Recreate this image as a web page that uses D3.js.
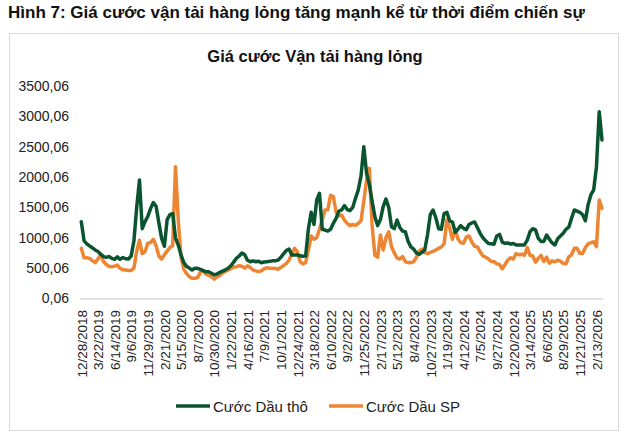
<!DOCTYPE html>
<html>
<head>
<meta charset="utf-8">
<script src="https://cdn.jsdelivr.net/npm/d3@7"></script>
<style>
  html, body { margin: 0; padding: 0; background: #ffffff; }
  svg { display: block; font-family: "Liberation Sans", Arial, sans-serif; }
</style>
</head>
<body>
<svg id="chart" width="631" height="437"></svg>
<script>
// ---------------- DATA ----------------
const pageTitle = "Hình 7: Giá cước vận tải hàng lỏng tăng mạnh kể từ thời điểm chiến sự";
const chartTitle = "Giá cước Vận tải hàng lỏng";
const seriesNames = ["Cước Dầu thô", "Cước Dầu SP"];
const startDate = "12/28/2018";   // first observation, every 2 weeks after
const stepDays = 14;

const tickLabels = ["12/28/2018","3/22/2019","6/14/2019","9/6/2019","11/29/2019","2/21/2020",
  "5/15/2020","8/7/2020","10/30/2020","1/22/2021","4/16/2021","7/9/2021","10/1/2021",
  "12/24/2021","3/18/2022","6/10/2022","9/2/2022","11/25/2022","2/17/2023","5/12/2023",
  "8/4/2023","10/27/2023","1/19/2024","4/12/2024","7/5/2024","9/27/2024","12/20/2024",
  "3/14/2025","6/6/2025","8/29/2025","11/21/2025","2/13/2026"];

const yTicks = [0.06, 500.06, 1000.06, 1500.06, 2000.06, 2500.06, 3000.06, 3500.06];

// Cước Dầu thô (crude)
const crude = [
  1265, 950, 900, 865, 835, 799, 775, 730, 690, 680,
  690, 662, 645, 685, 645, 675, 655, 650, 700, 950,
  1500, 1950, 1150, 1265, 1350, 1480, 1580, 1520, 1250, 991,
  860, 1300, 1380, 1400, 1000, 881, 720, 590, 530, 500,
  470, 497, 497, 480, 460, 440, 440, 415, 390, 405,
  430, 450, 470, 497, 540, 600, 660, 700, 750, 720,
  630, 606, 620, 606, 615, 590, 600, 606, 612, 620,
  620, 632, 675, 735, 790, 815, 716, 716, 716, 705,
  695, 700, 1150, 1420, 1220, 1622, 1733, 1140, 1128, 1110,
  1140, 1238, 1320, 1440, 1458, 1530, 1465, 1446, 1500, 1650,
  1787, 2020, 2500, 2062, 1880, 1600, 1347, 1200, 1300, 1512,
  1640, 1500, 1182, 1150, 1293, 1170, 1110, 1100, 940, 850,
  815, 750, 725, 760, 799, 1050, 1380, 1458, 1330, 1150,
  1140, 1400, 1420, 1280, 1260, 1090, 1140, 1200, 1156, 1135,
  1220, 1245, 1260, 1170, 1074, 1000, 950, 905, 900, 895,
  1030, 1055, 930, 909, 915, 895, 905, 880, 880, 881,
  883, 960, 1100, 1150, 1130, 990, 940, 940, 1046, 975,
  915, 881, 985, 1030, 1074, 1140, 1175, 1320, 1458, 1440,
  1420, 1380, 1280, 1550, 1710, 1790, 2171, 3077, 2611
];

// Cước Dầu SP (products)
const product = [
  826, 670, 670, 660, 625, 590, 650, 720, 610, 560,
  530, 524, 533, 550, 497, 472, 469, 462, 462, 500,
  780, 960, 740, 771, 909, 920, 975, 870, 700, 650,
  720, 780, 840, 870, 2171, 1300, 680, 480, 410, 360,
  332, 332, 345, 430, 460, 400, 380, 359, 320, 355,
  380, 420, 445, 469, 490, 520, 520, 540, 530, 500,
  540, 510, 470, 455, 442, 455, 490, 505, 500, 497,
  495, 480, 510, 540, 575, 630, 730, 826, 770, 606,
  570, 590, 800, 1030, 975, 1000, 1140, 1300, 1458, 1460,
  1700, 1680, 1420, 1360, 1375, 1290, 1240, 1200, 1220, 1205,
  1238, 1280, 1600, 1952, 2144, 1200, 710, 680, 1046, 800,
  1000, 1100, 853, 750, 670, 650, 690, 606, 592, 590,
  606, 680, 780, 815, 755, 740, 760, 775, 800, 826,
  850, 900, 1300, 1160, 975, 1140, 980, 920, 910, 1010,
  1030, 930, 860, 850, 770, 700, 680, 650, 610, 610,
  570, 560, 490, 560, 634, 670, 650, 740, 720, 730,
  710, 840, 710, 700, 600, 660, 710, 610, 680, 580,
  620, 606, 630, 615, 579, 570, 685, 720, 826, 826,
  744, 740, 840, 900, 920, 935, 853, 1622, 1486
];

// ---------------- CHART ----------------
const colors = ["#0a5530", "#ee8532"];
const parse = d3.timeParse("%m/%d/%Y");
const t0 = parse(startDate);
const dates = crude.map((_, i) => d3.timeDay.offset(t0, i * stepDays));

const svg = d3.select("#chart");

// frame
svg.append("rect").attr("x", 9.5).attr("y", 33.5).attr("width", 609).attr("height", 397)
  .attr("fill", "#fff").attr("stroke", "#d9d9d9").attr("stroke-width", 1);

svg.append("text").attr("x", 8).attr("y", 18)
  .attr("font-size", 17).attr("font-weight", "bold").attr("fill", "#111")
  .text(pageTitle);

svg.append("text").attr("x", 315).attr("y", 62).attr("text-anchor", "middle")
  .attr("font-size", 16.5).attr("font-weight", "bold").attr("fill", "#111")
  .text(chartTitle);

const x = d3.scaleTime().domain([dates[0], dates[dates.length - 1]]).range([81.3, 602]);
const y = d3.scaleLinear().domain([0.06, 3500.06]).range([298.5, 86]);

// y axis labels
const yAxis = d3.axisLeft(y).tickValues(yTicks).tickSize(0).tickPadding(0)
  .tickFormat(d => d3.format(".2f")(d).replace(".", ","));
const gy = svg.append("g").attr("transform", "translate(69,0)").call(yAxis);
gy.select(".domain").remove();
gy.selectAll("text").attr("font-size", 14).attr("fill", "#222")
  .attr("font-family", "Liberation Sans, Arial, sans-serif");

// baseline
svg.append("line").attr("x1", 80).attr("x2", 603).attr("y1", y(0.06) + 0.5).attr("y2", y(0.06) + 0.5)
  .attr("stroke", "#d9d9d9").attr("stroke-width", 1.5);

// x axis labels (rotated)
const tickDates = tickLabels.map(parse);
const xAxis = d3.axisBottom(x).tickValues(tickDates).tickSize(0).tickPadding(0)
  .tickFormat((d, i) => tickLabels[i]);
const gx = svg.append("g").attr("transform", "translate(0,310)").call(xAxis);
gx.select(".domain").remove();
gx.selectAll("text")
  .attr("font-size", 13.5).attr("fill", "#222")
  .attr("font-family", "Liberation Sans, Arial, sans-serif")
  .attr("text-anchor", "end")
  .attr("transform", "rotate(-90)")
  .attr("x", 0).attr("y", 0).attr("dy", "0.35em");

// lines
const line = d3.line().x((d, i) => x(dates[i])).y(d => y(d));
[product, crude].forEach((s, k) => {
  svg.append("path").datum(s)
    .attr("fill", "none")
    .attr("stroke", k === 0 ? colors[1] : colors[0])
    .attr("stroke-width", 3.5)
    .attr("stroke-linejoin", "round")
    .attr("stroke-linecap", "round")
    .attr("d", line);
});

// legend
const legendItems = [
  {name: seriesNames[0], color: colors[0], x: 176},
  {name: seriesNames[1], color: colors[1], x: 329}
];
const lg = svg.append("g");
legendItems.forEach(it => {
  lg.append("line").attr("x1", it.x).attr("x2", it.x + 34).attr("y1", 406).attr("y2", 406)
    .attr("stroke", it.color).attr("stroke-width", 3.5);
  lg.append("text").attr("x", it.x + 37).attr("y", 411.5)
    .attr("font-size", 15).attr("fill", "#222").text(it.name);
});
</script>
</body>
</html>
